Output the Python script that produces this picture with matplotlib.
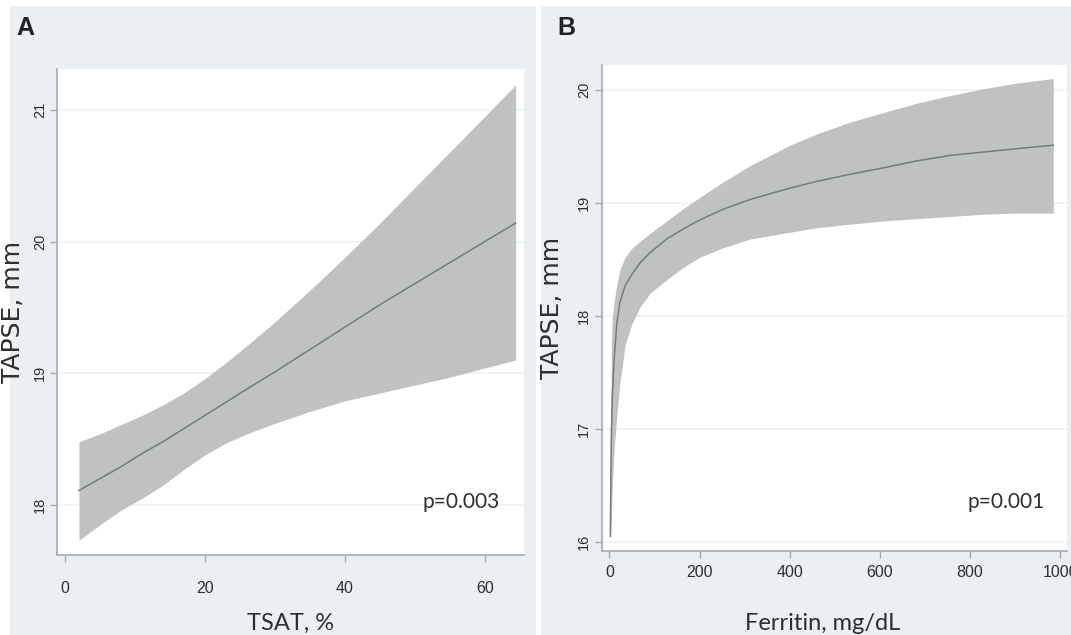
import numpy as np
import matplotlib.pyplot as plt
from matplotlib.patches import Rectangle

# Panel A: TAPSE vs TSAT
tsat = [2, 5, 8, 11, 14, 17, 20, 23, 26, 30, 35, 40, 45, 50, 55, 60, 64.4]
tapse_a = [18.11, 18.20, 18.29, 18.39, 18.48, 18.58, 18.68, 18.78, 18.88, 19.01, 19.18,
           19.35, 19.52, 19.68, 19.84, 20.00, 20.14]
upper_a = [18.48, 18.54, 18.61, 18.68, 18.76, 18.85, 18.96, 19.08, 19.21, 19.39, 19.63,
           19.88, 20.14, 20.41, 20.68, 20.95, 21.19]
lower_a = [17.73, 17.85, 17.96, 18.05, 18.15, 18.27, 18.38, 18.47, 18.54, 18.62, 18.71,
           18.79, 18.85, 18.91, 18.97, 19.04, 19.10]

# Panel B: TAPSE vs ferritin
ferritin = [2, 3, 4, 6, 10, 16, 23, 35, 50, 68, 90, 127, 164, 201, 250, 312,
            400, 460, 530, 608, 680, 756, 830, 904, 985]
tapse_b = [16.05, 16.55, 16.9, 17.25, 17.6, 17.92, 18.12, 18.27, 18.37, 18.47, 18.56, 18.68, 18.77,
           18.85, 18.94, 19.03, 19.13, 19.19, 19.25, 19.31, 19.37, 19.42, 19.45, 19.48, 19.51]
upper_b = [16.1, 17.1, 17.75, 17.97, 18.12, 18.27, 18.41, 18.52, 18.6, 18.66, 18.73, 18.84, 18.95,
           19.05, 19.18, 19.33, 19.51, 19.61, 19.71, 19.80, 19.88, 19.95, 20.01, 20.06, 20.10]
lower_b = [16.0, 16.1, 16.2, 16.45, 16.8, 17.1, 17.4, 17.75, 17.93, 18.08, 18.2, 18.32, 18.43,
           18.52, 18.6, 18.68, 18.74, 18.78, 18.81, 18.84, 18.86, 18.88, 18.9, 18.91, 18.91]

W, H = 1071, 635
bg = '#e9eff2'
band = '#c0c2c2'
linec = '#737b7d'
spine = '#a3abaf'
txt = '#2e2e2e'
tickfont = 'Liberation Sans'
labfont = 'Lato'

fig = plt.figure(figsize=(W / 100, H / 100), dpi=100)
fig.patch.set_facecolor('white')

# panel backgrounds
fig.patches.append(Rectangle((10 / W, 0), 526 / W, 629 / H, transform=fig.transFigure,
                             facecolor=bg, edgecolor='none', zorder=-10))
fig.patches.append(Rectangle((541 / W, 0), 530 / W, 629 / H, transform=fig.transFigure,
                             facecolor=bg, edgecolor='none', zorder=-10))


def make_axes(px_left, px_right, px_top, px_bottom):
    ax = fig.add_axes([px_left / W, (H - px_bottom) / H,
                       (px_right - px_left) / W, (px_bottom - px_top) / H])
    ax.set_facecolor('white')
    for s in ['top', 'right']:
        ax.spines[s].set_visible(False)
    for s in ['left', 'bottom']:
        ax.spines[s].set_color(spine)
        ax.spines[s].set_linewidth(1.2)
    ax.tick_params(colors=spine, length=5, width=1, labelcolor=txt)
    ax.grid(axis='y', color='#eef2f4', linewidth=1.2)
    ax.set_axisbelow(True)
    return ax


def style_ticks(ax, xpad, ypad):
    for lab in ax.get_yticklabels():
        lab.set_rotation(90)
        lab.set_va('center')
        lab.set_family(tickfont)
        lab.set_fontsize(10.5)
    for lab in ax.get_xticklabels():
        lab.set_family(tickfont)
        lab.set_fontsize(11.5)
    ax.tick_params(axis='x', pad=xpad)
    ax.tick_params(axis='y', pad=ypad)


# ---- A ----
axA = make_axes(57, 524, 69, 555)
axA.fill_between(tsat, lower_a, upper_a, color=band, linewidth=0)
axA.plot(tsat, tapse_a, color=linec, linewidth=1.1)
axA.set_xlim(-1.14, 65.6)
axA.set_ylim(17.62, 21.31)
axA.set_xticks([0, 20, 40, 60])
axA.set_yticks([18, 19, 20, 21])
style_ticks(axA, 14, 2)
axA.set_xlabel('TSAT, %', fontsize=17, family=labfont, color=txt)
axA.xaxis.set_label_coords(0.5, -0.119)
axA.set_ylabel('TAPSE, mm', fontsize=18, color=txt)
axA.yaxis.set_label_coords(-0.0685, 0.5)
axA.text(0.865, 0.109, 'p=0.003', transform=axA.transAxes, ha='center', va='center',
         fontsize=15, family=labfont, color=txt)

# ---- B ----
axB = make_axes(602, 1067, 65, 551)
axB.fill_between(ferritin, lower_b, upper_b, color=band, linewidth=0)
axB.plot(ferritin, tapse_b, color=linec, linewidth=1.1)
axB.set_xlim(-16.6, 1015.5)
axB.set_ylim(15.92, 20.22)
axB.set_xticks([0, 200, 400, 600, 800, 1000])
axB.set_yticks([16, 17, 18, 19, 20])
style_ticks(axB, 5, 3)
axB.set_xlabel('Ferritin, mg/dL', fontsize=17, family=labfont, color=txt)
axB.xaxis.set_label_coords(0.475, -0.128)
axB.set_ylabel('TAPSE, mm', fontsize=18, color=txt)
axB.yaxis.set_label_coords(-0.082, 0.5)
axB.text(0.869, 0.101, 'p=0.001', transform=axB.transAxes, ha='center', va='center',
         fontsize=15, family=labfont, color=txt)

# panel letters
fig.text(25 / W, 1 - 28 / H, 'A', fontsize=18, fontweight='bold', family=tickfont,
         ha='center', va='center', color='#222222')
fig.text(566 / W, 1 - 28 / H, 'B', fontsize=18, fontweight='bold', family=tickfont,
         ha='center', va='center', color='#222222')

fig.savefig('out.png', dpi=100)
